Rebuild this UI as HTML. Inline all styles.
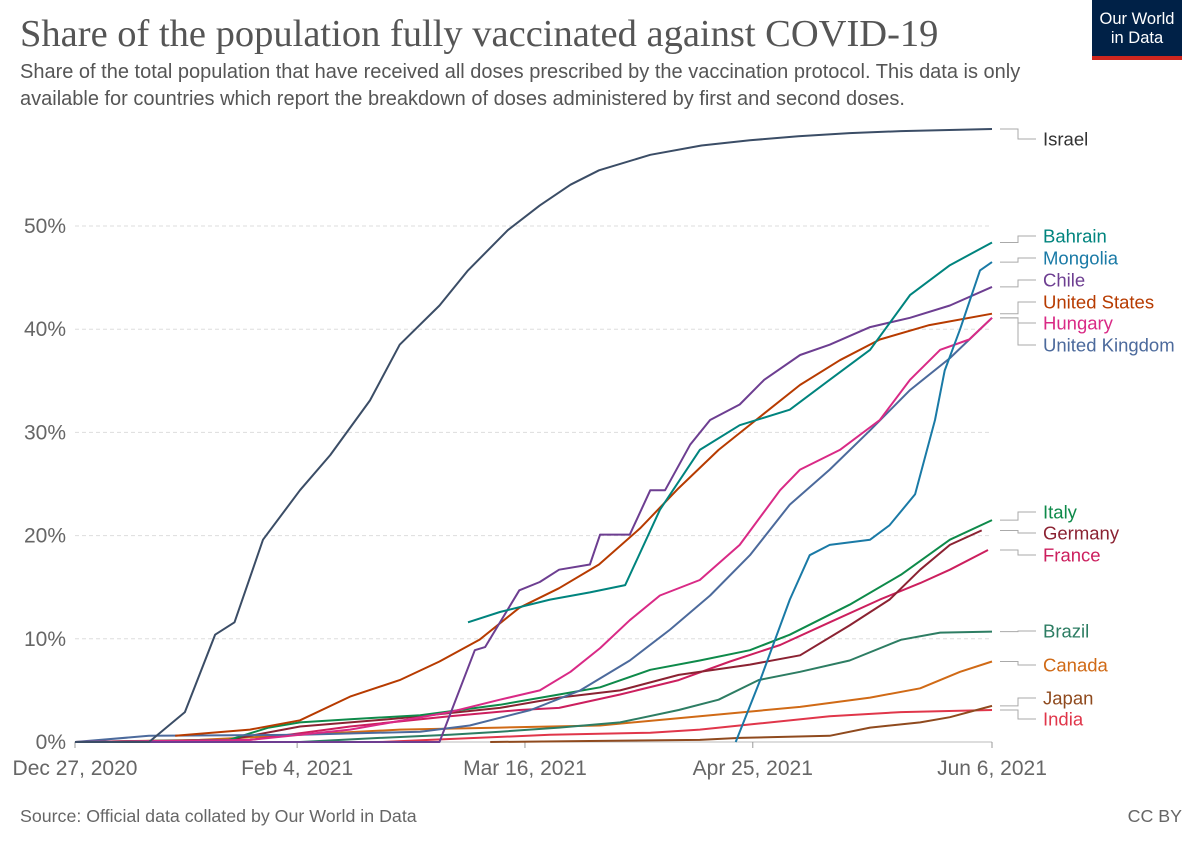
<!DOCTYPE html>
<html><head><meta charset="utf-8"><style>
body{margin:0;background:#fff;width:1200px;height:847px;overflow:hidden;font-family:"Liberation Sans",sans-serif}
#title{position:absolute;left:20px;top:12px;font-family:"Liberation Serif",serif;font-size:38.5px;color:#555;white-space:nowrap}
#sub{position:absolute;left:20px;top:59px;font-size:20px;color:#555;line-height:27px;width:1045px}
#logo{position:absolute;left:1092px;top:0;width:90px;height:60px;background:#002147;color:#fff;font-size:16.5px;text-align:center;line-height:19px}
#logo div{padding-top:10px}
#logo span{position:absolute;left:0;bottom:0;width:90px;height:4px;background:#ce261e}
#src{position:absolute;left:20px;top:806px;font-size:17.8px;color:#666}
#cc{position:absolute;right:18px;top:806px;font-size:17.8px;color:#666}
</style></head><body>
<div id="title">Share of the population fully vaccinated against COVID-19</div>
<div id="sub">Share of the total population that have received all doses prescribed by the vaccination protocol. This data is only available for countries which report the breakdown of doses administered by first and second doses.</div>
<div id="logo"><div>Our World<br>in Data</div><span></span></div>
<svg id="chart" width="1200" height="847" style="position:absolute;left:0;top:0"></svg>
<div id="src">Source: Official data collated by Our World in Data</div>
<div id="cc">CC BY</div>
<script>
const yTicks=[0,10,20,30,40,50];
const xTickDays=[0,39,79,119,161];
const xTickLabels=["Dec 27, 2020","Feb 4, 2021","Mar 16, 2021","Apr 25, 2021","Jun 6, 2021"];
const names=["Israel","Bahrain","Mongolia","Chile","United States","Hungary","United Kingdom","Italy","Germany","France","Brazil","Canada","Japan","India"];
const israelDays=[0,13,19.3,24.6,28,33,39.5,44.8,51.8,57,64,69,76,81.6,87,92,101,110,118.5,127,136,145,161];
const israelVals=[0,0,2.9,10.4,11.6,19.6,24.4,27.8,33.1,38.5,42.3,45.7,49.6,52,54,55.4,56.9,57.8,58.3,58.7,59,59.2,59.4];
const bahrainDays=[69,74.6,83.4,90.4,96.6,102.7,109.7,116.7,125.5,132.5,139.6,146.6,153.6,161];
const bahrainVals=[11.6,12.6,13.8,14.5,15.2,22.5,28.3,30.7,32.2,35.1,38,43.3,46.2,48.4];
const mongoliaDays=[116,120.3,125.5,129,132.5,139.6,143,147.5,151,152.7,155.4,158.9,161];
const mongoliaVals=[0,6,13.8,18.1,19.1,19.6,21,24,31.2,36,40,45.7,46.5];
const chileDays=[0,64,70.2,72,78,81.6,85,90.4,92.2,97.4,101,103.6,108,111.5,116.7,121,127.3,132.5,139.6,146.6,153.6,161];
const chileVals=[0,0,8.9,9.2,14.7,15.5,16.7,17.2,20.1,20.1,24.4,24.4,28.8,31.2,32.7,35.1,37.5,38.5,40.2,41.1,42.3,44.1];
const usDays=[17.6,30.7,39.5,48.3,57,64,71,78,85,92,99.2,106,113,120,127.3,134.3,141.3,150,161];
const usVals=[0.6,1.2,2.1,4.4,6,7.8,9.9,13,14.9,17.2,20.7,24.6,28.3,31.4,34.6,37,39,40.4,41.5];
const hungaryDays=[0,30.7,48.3,65.8,74.6,81.6,87,92.2,97.4,102.7,109.7,116.7,123.8,127.3,134.3,141.3,146.6,151.9,157,161];
const hungaryVals=[0,0.2,1.2,2.9,4.1,5,6.8,9.1,11.8,14.2,15.7,19.1,24.4,26.4,28.3,31.2,35.1,38,39,41.1];
const ukDays=[0,13,39.5,60.6,69.3,80,88.7,97.4,104.5,111.5,118.5,125.5,132.5,139.6,146.6,153.6,161];
const ukVals=[0,0.6,0.7,1,1.6,3.1,5,7.9,10.9,14.2,18.1,23,26.4,30.2,34.1,37.2,41.1];
const italyDays=[0,27,34,39.5,48.3,60.6,74.6,85,92.2,101,109.7,118.5,125.5,136,145,153.6,161];
const italyVals=[0,0.2,1.4,1.9,2.2,2.6,3.6,4.6,5.3,7,7.9,8.9,10.4,13.3,16.2,19.6,21.5];
const germanyDays=[0,27,39.5,57,74.6,85,95.7,106,118.5,127.3,136,143,148.4,153.6,159.2];
const germanyVals=[0,0.2,1.5,2.3,3.3,4.3,5,6.5,7.5,8.4,11.3,13.8,16.7,19.1,20.5];
const franceDays=[0,30.7,48.3,65.8,78,85,95.7,106,115,123.8,132.5,141.3,148.4,153.6,160.3];
const franceVals=[0,0.2,1.5,2.5,3.1,3.3,4.6,6,7.8,9.4,11.6,13.8,15.4,16.7,18.6];
const brazilDays=[39.5,53.5,65.8,74.6,85,95.7,106,113,120,127.3,136,145,151.9,161];
const brazilVals=[0,0.4,0.7,1,1.4,1.9,3.1,4.1,6,6.8,7.9,9.9,10.6,10.7];
const canadaDays=[0,21.9,39.5,57,74.6,92.2,109.7,127.3,139.6,148.4,155.4,161];
const canadaVals=[0,0.2,0.7,1.2,1.4,1.6,2.5,3.4,4.3,5.2,6.8,7.8];
const japanDays=[72.9,109.7,116.7,132.5,139.6,148.4,153.6,161];
const japanVals=[0,0.2,0.4,0.6,1.4,1.9,2.4,3.5];
const indiaDays=[53.5,62.2,83.4,101,109.7,120.3,132.5,145,161];
const indiaVals=[0,0.2,0.7,0.9,1.2,1.8,2.5,2.9,3.1];
const seriesDays=[israelDays,bahrainDays,mongoliaDays,chileDays,usDays,hungaryDays,ukDays,italyDays,germanyDays,franceDays,brazilDays,canadaDays,japanDays,indiaDays];
const seriesVals=[israelVals,bahrainVals,mongoliaVals,chileVals,usVals,hungaryVals,ukVals,italyVals,germanyVals,franceVals,brazilVals,canadaVals,japanVals,indiaVals];
const colors=["#3b4d66","#00847e","#1a7aa6","#6d3e91","#b73b00","#d92a86","#4c6a9c","#0e8a4a","#8b2232","#cc1f5e","#2d7d63","#d06a16","#8f4a1e","#e0364a"];
const labelY=[139,236,258,280,302,323,345,512,533,555,631,665,698,719];

const X0=75,X1=992,Y0=742,Y50=226;
const x=d=>X0+d*(X1-X0)/161;
const y=v=>Y0-v*(Y0-Y50)/50;
const svg=document.getElementById('chart');
const NS="http://www.w3.org/2000/svg";
function mk(t,a){const e=document.createElementNS(NS,t);for(const k in a)e.setAttribute(k,a[k]);svg.appendChild(e);return e;}
yTicks.forEach(t=>{
  const g=mk('line',{x1:X0,x2:X1,y1:y(t),y2:y(t),stroke:t===0?'#bbb':'#ddd','stroke-dasharray':t===0?'':'4,3'});
  
  
  const tx=mk('text',{x:66,y:y(t)+7,'text-anchor':'end','font-size':21,fill:'#666','font-family':'Liberation Sans'});
  tx.textContent=t+'%';
  
  
});
xTickDays.forEach((d,i)=>{
  const l=mk('line',{x1:x(d),x2:x(d),y1:Y0,y2:Y0+6,stroke:'#999'});
  
  
  const tx=mk('text',{x:x(d),y:775,'text-anchor':'middle','font-size':21,fill:'#666','font-family':'Liberation Sans'});
  tx.textContent=xTickLabels[i];
  
  
});
for(let s=seriesDays.length-1;s>=0;s--){
  const pts=seriesDays[s].map((d,i)=>x(d).toFixed(1)+','+y(seriesVals[s][i]).toFixed(1)).join(' ');
  const p=mk('polyline',{points:pts,fill:'none',stroke:colors[s],'stroke-width':2,'stroke-linejoin':'round'});
  
  
}
names.forEach((n,s)=>{
  const d=seriesDays[s],v=seriesVals[s];
  const ey=y(v[v.length-1]);
  const ly=labelY[s];
  const ln=mk('polyline',{points:`1000,${ey} 1018,${ey} 1018,${ly} 1036,${ly}`,fill:'none',stroke:'#aaa','stroke-width':1});
  
  
  const t=mk('text',{x:1043,y:labelY[s]+6.5,'font-size':18.5,fill:colors[s],'font-family':'Liberation Sans'});
  if(s===0)t.setAttribute('fill','#333');
  t.textContent=n;
  
  
});
</script>
</body></html>
